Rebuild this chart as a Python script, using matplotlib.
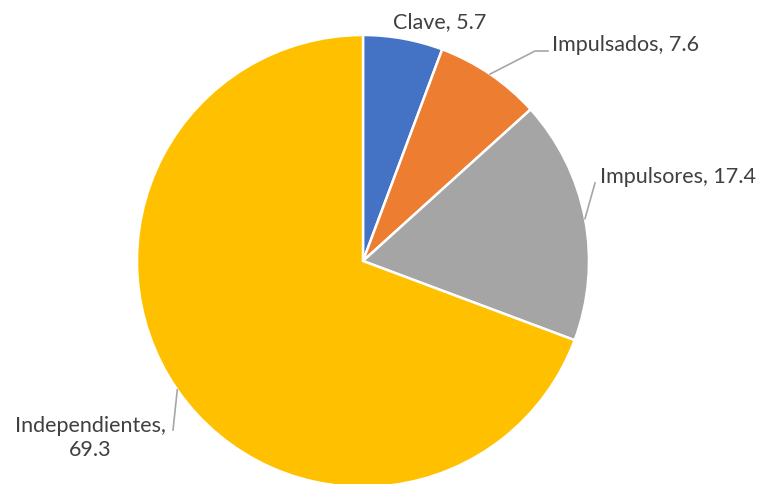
import numpy as np
import matplotlib.pyplot as plt

plt.rcParams['font.family'] = ['Lato', 'DejaVu Sans']

labels = ['Clave', 'Impulsados', 'Impulsores', 'Independientes']
values = [5.7, 7.6, 17.4, 69.3]
colors = ['#4472C4', '#ED7D31', '#A5A5A5', '#FFC000']

W, H = 766, 485
cx, cy, R = 363, 262, 226

fig = plt.figure(figsize=(W / 100, H / 100), dpi=100)
ax = fig.add_axes([(cx - R) / W, (H - cy - R) / H, 2 * R / W, 2 * R / H])

wedges, _ = ax.pie(values, colors=colors, startangle=90, counterclock=False,
                   radius=1, wedgeprops=dict(edgecolor='white', linewidth=1.8))
for w in wedges:
    w.set_clip_on(False)
ax.set_xlim(-1, 1)
ax.set_ylim(-1, 1)
ax.axis('off')

def px(x, y):
    # pixel position -> axes data coordinates
    return (x - cx) / R, (cy - y) / R

txt = dict(fontsize=15.5, color='#404040', ha='center', va='center')
line = dict(color='#A6A6A6', lw=1.2, clip_on=False)

mids = []
for w in wedges:
    mids.append(np.deg2rad((w.theta1 + w.theta2) / 2))

# Clave: label sits right above the slice
ax.text(*px(440, 22), f'{labels[0]}, {values[0]}', **txt)

# Impulsados: elbow leader
a = mids[1]
x0, y0 = np.cos(a), np.sin(a)
ex, ey = px(535, 52)
hx, hy = px(548, 52)
ax.plot([x0, ex, hx], [y0, ey, hy], **line)
ax.text(*px(552, 45), f'{labels[1]}, {values[1]}', **dict(txt, ha='left'))

# Impulsores
a = mids[2]
x0, y0 = np.cos(a), np.sin(a)
ex, ey = px(595, 184)
ax.plot([x0, ex], [y0, ey], **line)
ax.text(*px(600, 177), f'{labels[2]}, {values[2]}', **dict(txt, ha='left'))

# Independientes
a = mids[3]
x0, y0 = np.cos(a), np.sin(a)
ex, ey = px(173, 431)
ax.plot([x0, ex], [y0, ey], **line)
ax.text(*px(90, 438), f'{labels[3]},\n{values[3]}', linespacing=1.2, **txt)

fig.savefig('out.png', dpi=100)
